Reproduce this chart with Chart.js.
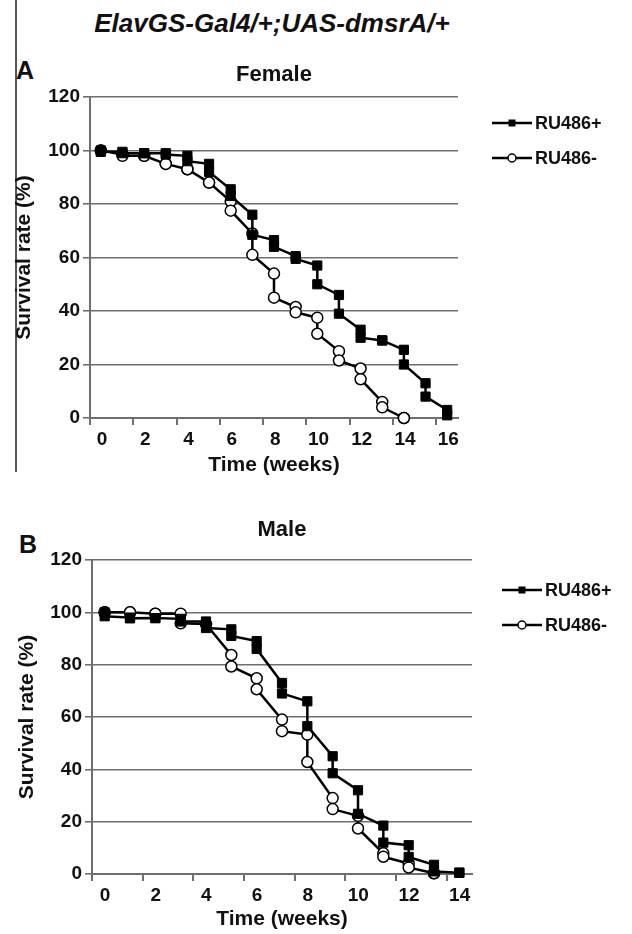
<!DOCTYPE html>
<html>
<head>
<meta charset="utf-8">
<script src="https://cdn.jsdelivr.net/npm/chart.js@4.4.0/dist/chart.umd.min.js"></script>
<style>
  body { margin: 0; background: #fff; width: 632px; height: 934px; position: relative; overflow: hidden; font-family: "Liberation Sans", Arial, sans-serif; color: #111; }
  .abs { position: absolute; }
  #mainTitle { left: 72px; width: 400px; top: 8px; text-align: center; font: italic bold 26px "Liberation Sans", Arial, sans-serif; }
  .panel { font: bold 25px "Liberation Sans", Arial, sans-serif; }
  #frameLine { left: 15px; top: 0; width: 1.5px; height: 472px; background: #555; }
</style>
</head>
<body>
<div id="frameLine" class="abs"></div>
<div id="mainTitle" class="abs">ElavGS-Gal4/+;UAS-dmsrA/+</div>
<div class="abs panel" style="left:16px;top:56px;">A</div>
<div class="abs panel" style="left:19px;top:530px;">B</div>
<canvas id="chartA" class="abs" style="left:0;top:55px;" width="632" height="425"></canvas>
<canvas id="chartB" class="abs" style="left:0;top:500px;" width="632" height="434"></canvas>
<script>
// ---- data ----
// week positions of the census points (centre of each week)
const femaleWeeks = [0.5, 1.5, 2.5, 3.5, 4.5, 5.5, 6.5, 7.5, 8.5, 9.5, 10.5, 11.5, 12.5, 13.5, 14.5, 15.5, 16.5];
const maleWeeks = [0.5, 1.5, 2.5, 3.5, 4.5, 5.5, 6.5, 7.5, 8.5, 9.5, 10.5, 11.5, 12.5, 13.5, 14.5];

// each week has a value before and after the drop (step curve)
const femalePlusBefore = [100, 99.5, 99, 99, 98, 95, 85.5, 76, 66.5, 60.5, 57, 46, 33, 29, 25.5, 13, 3];
const femalePlusAfter  = [99.5, 99, 99, 98.5, 96, 92, 83, 68.5, 64, 59.5, 50, 39, 30, 29, 20, 8, 1];
const femaleMinusBefore = [100, 98.5, 98, 95, 93, 88, 81, 69, 54, 41.5, 37.5, 25, 18.5, 6, 0];
const femaleMinusAfter  = [100, 98, 98, 95, 93, 88, 77.5, 61, 45, 39.5, 31.5, 21.5, 14.5, 4, 0];

const malePlusBefore = [100, 98, 97.8, 97.5, 96.5, 93.5, 89, 73, 66, 45, 32, 18.5, 11, 3.5, 0.5];
const malePlusAfter  = [98.5, 97.7, 97.8, 96.5, 94, 91, 86, 69, 56.5, 38.5, 23, 12, 6.5, 1, 0.5];
const maleMinusBefore = [100, 100, 99.5, 99.5, 95.5, 83.7, 74.8, 59, 53.3, 29, 22.2, 7.9, 4, 0.3];
const maleMinusAfter  = [100, 100, 99.5, 95.8, 95.5, 79.3, 70.6, 54.6, 42.8, 24.8, 17.4, 6.6, 2.5, 0.3];

const seriesNames = ['RU486+', 'RU486-'];
const yTicks = [0, 20, 40, 60, 80, 100, 120];

function stepPoints(weeks, before, after) {
  const pts = [];
  before.forEach((v, i) => {
    pts.push({ x: weeks[i], y: v });
    pts.push({ x: weeks[i], y: after[i] });
  });
  return pts;
}

const FONT = '"Liberation Sans", Arial, sans-serif';
const GRID = '#6e6e6e';

// panel title + excel-style legend (line with marker) drawn next to the plot
const decor = {
  id: 'decor',
  afterDraw(chart, args, opts) {
    const { ctx, chartArea } = chart;
    ctx.save();
    ctx.fillStyle = '#111';
    ctx.font = 'bold 22px ' + FONT;
    ctx.textAlign = 'center';
    ctx.textBaseline = 'middle';
    ctx.fillText(opts.title, (chartArea.left + chartArea.right) / 2, chartArea.top - opts.titleGap);

    chart.data.datasets.forEach((ds, i) => {
      const y = chartArea.top + opts.legendTop + i * opts.legendStep;
      const x0 = chartArea.right + opts.legendGap;
      ctx.strokeStyle = '#000';
      ctx.lineWidth = 2.5;
      ctx.beginPath();
      ctx.moveTo(x0, y);
      ctx.lineTo(x0 + 40, y);
      ctx.stroke();
      ctx.lineWidth = 1.5;
      if (ds.pointStyle === 'rect') {
        ctx.fillStyle = '#000';
        ctx.fillRect(x0 + 16.5, y - 3.5, 7, 7);
      } else {
        ctx.fillStyle = '#fff';
        ctx.beginPath();
        ctx.arc(x0 + 20, y, 4, 0, Math.PI * 2);
        ctx.fill();
        ctx.stroke();
      }
      ctx.fillStyle = '#111';
      ctx.font = 'bold 18px ' + FONT;
      ctx.textAlign = 'left';
      ctx.fillText(ds.label, x0 + 43, y + 1);
    });
    ctx.restore();
  }
};

function makeChart(id, cfg) {
  const datasets = [
    {
      label: seriesNames[1],
      data: cfg.minus,
      borderColor: '#000',
      borderWidth: 2.5,
      pointStyle: 'circle',
      pointRadius: 5.5,
      pointBackgroundColor: '#fff',
      pointBorderColor: '#000',
      pointBorderWidth: 1.5,
      tension: 0,
      clip: false,
      order: 2
    },
    {
      label: seriesNames[0],
      data: cfg.plus,
      borderColor: '#000',
      borderWidth: 2.5,
      pointStyle: 'rect',
      pointRadius: 6.5,
      pointBackgroundColor: '#000',
      pointBorderColor: '#000',
      pointBorderWidth: 1,
      tension: 0,
      clip: false,
      order: 1
    }
  ];
  // legend lists RU486+ first
  const legendOrder = [datasets[1], datasets[0]];

  return new Chart(document.getElementById(id), {
    type: 'line',
    data: { datasets: legendOrder },
    options: {
      responsive: false,
      animation: false,
      layout: { padding: { top: cfg.padTop, right: cfg.padRight, left: 0, bottom: 0 } },
      plugins: {
        legend: { display: false },
        tooltip: { enabled: false },
        decor: cfg.decor
      },
      scales: {
        x: {
          type: 'linear',
          min: 0,
          max: cfg.xMax,
          afterFit: (s) => { s.height = cfg.xHeight; },
          border: { display: true, color: GRID, width: 2 },
          grid: { drawOnChartArea: false, drawTicks: true, tickLength: 7, color: GRID, lineWidth: 2 },
          ticks: {
            stepSize: 2,
            includeBounds: false,
            labelOffset: cfg.labelOffset,
            color: '#111',
            padding: 3,
            maxRotation: 0,
            font: { family: FONT, size: 19, weight: 'bold' }
          },
          title: {
            display: true,
            text: 'Time (weeks)',
            color: '#111',
            padding: { top: 0, bottom: 2 },
            font: { family: FONT, size: 21, weight: 'bold' }
          }
        },
        y: {
          min: 0,
          max: 120,
          afterFit: (s) => { s.width = cfg.yWidth; },
          afterBuildTicks: (s) => { s.ticks = yTicks.map(v => ({ value: v })); },
          border: { display: true, color: GRID, width: 2 },
          grid: { color: GRID, lineWidth: 1.6, tickLength: 7 },
          ticks: {
            color: '#111',
            padding: 3,
            font: { family: FONT, size: 19, weight: 'bold' }
          },
          title: {
            display: true,
            text: 'Survival rate (%)',
            color: '#111',
            padding: { top: cfg.yTitlePad, bottom: 0 },
            font: { family: FONT, size: 21, weight: 'bold' }
          }
        }
      }
    },
    plugins: [decor]
  });
}

makeChart('chartA', {
  plus: stepPoints(femaleWeeks, femalePlusBefore, femalePlusAfter),
  minus: stepPoints(femaleWeeks, femaleMinusBefore, femaleMinusAfter),
  xMax: 17,
  padTop: 42,
  padRight: 174,
  xHeight: 62,
  yWidth: 90,
  yTitlePad: 12,
  labelOffset: 12,
  decor: { title: 'Female', titleGap: 22, legendTop: 26, legendStep: 35, legendGap: 34 }
});

makeChart('chartB', {
  plus: stepPoints(maleWeeks, malePlusBefore, malePlusAfter),
  minus: stepPoints(maleWeeks, maleMinusBefore, maleMinusAfter),
  xMax: 15,
  padTop: 60,
  padRight: 160,
  xHeight: 60,
  yWidth: 92,
  yTitlePad: 15,
  labelOffset: 13,
  decor: { title: 'Male', titleGap: 30, legendTop: 30, legendStep: 35, legendGap: 30 }
});
</script>
</body>
</html>
